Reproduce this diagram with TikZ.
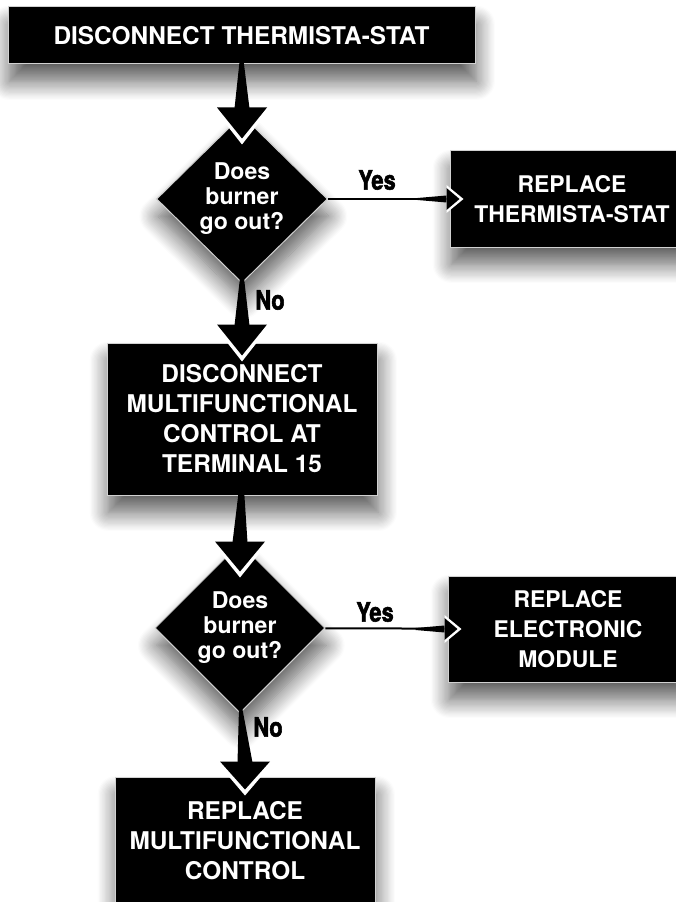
\documentclass[tikz,border=0pt]{standalone}
\usepackage{fontspec}
\setmainfont{TeX Gyre Heros}
\newfontfamily\answerfont[FakeStretch=0.82,FakeBold=2]{TeX Gyre Heros}
\usetikzlibrary{shapes.geometric}
\usetikzlibrary{shadows.blur}
\usetikzlibrary{calc}

\tikzset{
  stepshadow/.style={blur shadow={shadow xshift=1pt,shadow yshift=-13pt,shadow blur radius=14pt,shadow opacity=65,shadow blur steps=16}},
  stepbox/.style={rectangle,fill=black,draw=black!18,line width=0.75pt,text=white,align=center,inner sep=0pt,
    font=\bfseries\fontsize{18.3}{22.5}\selectfont,stepshadow},
  sidebox/.style={stepbox,font=\bfseries\fontsize{17.2}{22.5}\selectfont},
  askdiamond/.style={diamond,aspect=1,fill=black,draw=black!18,line width=0.75pt,text=white,align=center,inner sep=0pt,
    font=\bfseries\fontsize{17.3}{18.8}\selectfont,stepshadow},
  answer/.style={inner sep=0pt,font=\answerfont\bfseries\fontsize{20}{20}\selectfont},
  yesline/.style={draw=black,line width=1.5pt},
}

\begin{document}
\begin{tikzpicture}[x=0.75pt,y=0.75pt,yscale=-1,xscale=1]
\useasboundingbox (0,0) rectangle (675,902);

% Step Box
\node[stepbox,minimum width=350.25pt,minimum height=42.75pt] (b1) at (241.5,35.5) {DISCONNECT THERMISTA-STAT};
% Decision
\node[askdiamond,minimum width=128.25pt,minimum height=126pt] (d1) at (242,199) {Does\\burner\\go out?};
% Step Box
\node[sidebox,minimum width=183pt,minimum height=72pt] (b2) at (572,199) {REPLACE\\THERMISTA-STAT};
% Step Box
\node[stepbox,minimum width=202.5pt,minimum height=114pt] (b3) at (242,419) {DISCONNECT\\MULTIFUNCTIONAL\\CONTROL AT\\TERMINAL 15};
% Decision
\node[askdiamond,minimum width=127.5pt,minimum height=127.5pt] (d2) at (240,628) {Does\\burner\\go out?};
% Step Box
\node[sidebox,minimum width=180pt,minimum height=79.5pt] (b4) at (568,629) {REPLACE\\ELECTRONIC\\MODULE};
% Step Box
\node[stepbox,minimum width=195pt,minimum height=96pt] (b5) at (245,841) {REPLACE\\MULTIFUNCTIONAL\\CONTROL};

% Arrow b1 -> d1
\fill[white] ($(d1.north)+(-29,-7)$) -- ($(d1.north)+(29,-7)$) -- ($(d1.north)+(0,30)$) -- cycle;
\fill[black] ($(b1.south)+(-0.8,-14)$) -- ($(b1.south)+(0.8,-14)$) -- ($(d1.north)+(7.5,-6)$) -- ($(d1.north)+(-7.5,-6)$) -- cycle;
\fill[black] ($(d1.north)+(-25,-7)$) -- ($(d1.north)+(25,-7)$) -- ($(d1.north)+(0,24)$) -- cycle;

% Arrow d1 -> b3
\fill[white] ($(b3.north)+(-29,-18)$) -- ($(b3.north)+(29,-18)$) -- ($(b3.north)+(0,19)$) -- cycle;
\fill[black] ($(d1.south)+(-0.8,-16)$) -- ($(d1.south)+(0.8,-16)$) -- ($(b3.north)+(7.5,-17)$) -- ($(b3.north)+(-7.5,-17)$) -- cycle;
\fill[black] ($(b3.north)+(-25,-18)$) -- ($(b3.north)+(25,-18)$) -- ($(b3.north)+(0,13)$) -- cycle;

% Arrow b3 -> d2
\fill[white] ($(d2.north)+(-29,-1)$) -- ($(d2.north)+(29,-1)$) -- ($(d2.north)+(0,35)$) -- cycle;
\fill[black] ($(b3.south)+(-0.8,-25)$) -- ($(b3.south)+(0.8,-25)$) -- ($(d2.north)+(7.5,0)$) -- ($(d2.north)+(-7.5,0)$) -- cycle;
\fill[black] ($(d2.north)+(-25,-1)$) -- ($(d2.north)+(25,-1)$) -- ($(d2.north)+(0,29)$) -- cycle;

% Arrow d2 -> b5
\fill[white] ($(b5.north)+(-29,-15)$) -- ($(b5.north)+(29,-15)$) -- ($(b5.north)+(0,19)$) -- cycle;
\fill[black] ($(d2.south)+(-0.8,-13)$) -- ($(d2.south)+(0.8,-13)$) -- ($(b5.north)+(7.5,-14)$) -- ($(b5.north)+(-7.5,-14)$) -- cycle;
\fill[black] ($(b5.north)+(-25,-15)$) -- ($(b5.north)+(25,-15)$) -- ($(b5.north)+(0,13)$) -- cycle;

% Arrow d1 -> b2
\draw[yesline] (d1) -- (b2);
\fill[black] ($(b2.west)+(-32,-1)$) -- ($(b2.west)+(-3,-3.5)$) -- ($(b2.west)+(-3,3.5)$) -- ($(b2.west)+(-32,1)$) -- cycle;
\fill[white] ($(b2.west)+(-3,-14)$) -- ($(b2.west)+(14,0)$) -- ($(b2.west)+(-3,14)$) -- cycle;
\fill[black] ($(b2.west)+(-3,-11)$) -- ($(b2.west)+(10,0)$) -- ($(b2.west)+(-3,11)$) -- cycle;

% Arrow d2 -> b4
\draw[yesline] (d2) -- (b4);
\fill[black] ($(b4.west)+(-32,-1)$) -- ($(b4.west)+(-3,-3.5)$) -- ($(b4.west)+(-3,3.5)$) -- ($(b4.west)+(-32,1)$) -- cycle;
\fill[white] ($(b4.west)+(-3,-14)$) -- ($(b4.west)+(14,0)$) -- ($(b4.west)+(-3,14)$) -- cycle;
\fill[black] ($(b4.west)+(-3,-11)$) -- ($(b4.west)+(10,0)$) -- ($(b4.west)+(-3,11)$) -- cycle;

% Text Node
\node[answer] (yes1) at (377,180) {Yes};
% Text Node
\node[answer] (no1) at (270,300) {No};
% Text Node
\node[answer] (yes2) at (375,612) {Yes};
% Text Node
\node[answer] (no2) at (268,727) {No};

\end{tikzpicture}
\end{document}
